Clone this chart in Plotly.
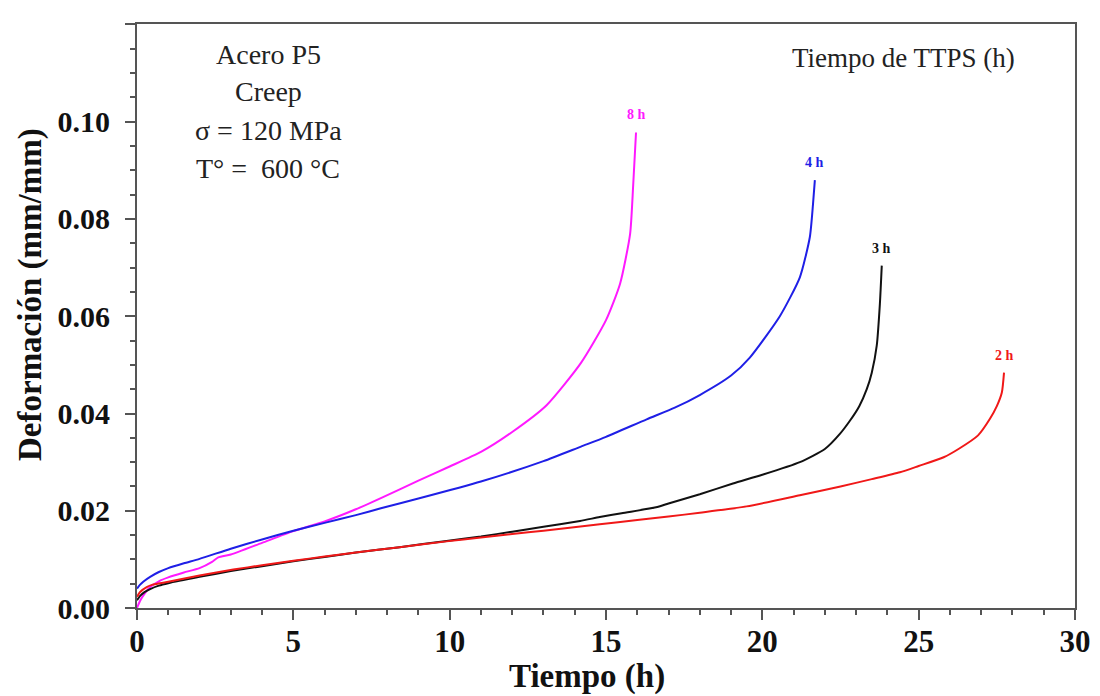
import plotly.graph_objects as go

# Creep curves, acero P5, sigma = 120 MPa, 600 C
t_8h = [0, 0.1, 0.25, 0.42, 0.7, 1.0, 1.5, 2.0, 2.4, 2.6, 3.0, 4.0, 5.0, 6.0, 7.0, 7.8,
        9.0, 10.0, 11.0, 12.0, 13.1, 14.2, 15.0, 15.45, 15.77, 15.87, 15.96]
e_8h = [0, 0.0015, 0.003, 0.0043, 0.0055, 0.0063, 0.0073, 0.0082, 0.0095, 0.0104, 0.0110,
        0.0134, 0.0158, 0.0178, 0.0203, 0.0226, 0.0262, 0.0291, 0.0321, 0.0362, 0.0417,
        0.0504, 0.0592, 0.0667, 0.0769, 0.087, 0.0978]

t_4h = [0, 0.1, 0.2, 0.42, 0.7, 1.0, 1.5, 2.0, 3.0, 4.0, 5.0, 6.0, 7.0, 7.8, 9.0, 11.0,
        13.0, 14.2, 15.0, 16.3, 17.2, 18.0, 19.0, 19.6, 20.56, 21.2, 21.52, 21.62, 21.68]
e_4h = [0.004, 0.0048, 0.0054, 0.0064, 0.0074, 0.0082, 0.0092, 0.0101, 0.0122, 0.0141,
        0.0159, 0.0175, 0.0191, 0.0205, 0.0225, 0.026, 0.0302, 0.0332, 0.0352, 0.0388,
        0.0412, 0.0438, 0.0478, 0.0515, 0.060, 0.068, 0.0763, 0.083, 0.088]

t_3h = [0, 0.1, 0.25, 0.42, 0.7, 1.0, 2.0, 3.0, 4.0, 5.0, 6.0, 7.0, 8.4, 9.9, 11.0, 12.0,
        13.0, 14.17, 14.8, 15.5, 16.6, 17.0, 18.0, 19.06, 20.0, 21.2, 22.0, 22.48, 22.8,
        23.1, 23.34, 23.5, 23.66, 23.76, 23.82]
e_3h = [0.0016, 0.0025, 0.0033, 0.0039, 0.0046, 0.0051, 0.0064, 0.0076, 0.0086, 0.0096,
        0.0105, 0.0114, 0.0125, 0.0138, 0.0147, 0.0157, 0.0167, 0.0179, 0.0187, 0.0195,
        0.0207, 0.0215, 0.0234, 0.0256, 0.0274, 0.0300, 0.0327, 0.0358, 0.0385, 0.0415,
        0.0450, 0.0484, 0.054, 0.0626, 0.0704]

t_2h = [0, 0.1, 0.31, 0.5, 0.74, 1.0, 2.0, 3.08, 4.0, 5.0, 6.0, 7.0, 8.4, 9.9, 11.0, 12.0,
        13.0, 14.8, 16.0, 17.0, 18.0, 19.5, 21.2, 22.5, 23.5, 24.4, 25.0, 25.8, 26.3, 26.9,
        27.28, 27.5, 27.66, 27.73]
e_2h = [0.0023, 0.0033, 0.0043, 0.0048, 0.0051, 0.0054, 0.0067, 0.0079, 0.0088, 0.0097,
        0.0106, 0.0114, 0.0125, 0.0137, 0.0145, 0.0152, 0.0159, 0.0172, 0.0181, 0.0188,
        0.0196, 0.0209, 0.0232, 0.0250, 0.0265, 0.0279, 0.0292, 0.0310, 0.0328, 0.0355,
        0.0389, 0.0415, 0.0443, 0.0484]

series = [
    ("8 h", t_8h, e_8h, "#ff19ff"),
    ("4 h", t_4h, e_4h, "#1f1fe6"),
    ("3 h", t_3h, e_3h, "#111111"),
    ("2 h", t_2h, e_2h, "#f01818"),
]

y_ticks = [0.0, 0.02, 0.04, 0.06, 0.08, 0.10, 0.12]
y_labels = ["0.00", "0.02", "0.04", "0.06", "0.08", "0.10", "0.12"]

info_lines = ["Acero P5", "Creep", "σ = 120 MPa", "T° =  600 °C"]
info_y = [0.947, 0.885, 0.818, 0.753]

serif = "Liberation Serif, Times New Roman, serif"

fig = go.Figure()
for name, t, e, color in series:
    fig.add_trace(go.Scatter(x=t, y=e, mode="lines", name=name,
                             line=dict(color=color, width=2, shape="spline", smoothing=0.6)))
    fig.add_annotation(x=t[-1], y=e[-1], text="<b>%s</b>" % name, showarrow=False,
                       yanchor="bottom", yshift=8,
                       font=dict(family=serif, size=14, color=color))

for line, yy in zip(info_lines, info_y):
    fig.add_annotation(x=0.14, y=yy, xref="paper", yref="paper", showarrow=False,
                       text=line, xanchor="center", yanchor="middle",
                       font=dict(family=serif, size=28, color="#222"))
fig.add_annotation(x=0.817, y=0.942, xref="paper", yref="paper", showarrow=False,
                   text="Tiempo de TTPS (h)", xanchor="center", yanchor="middle",
                   font=dict(family=serif, size=27, color="#222"))

# axis titles
fig.add_annotation(x=0.48, y=-0.117, xref="paper", yref="paper", showarrow=False,
                   text="<b>Tiempo (h)</b>", xanchor="center", yanchor="middle",
                   font=dict(family=serif, size=33, color="#111"))
fig.add_annotation(x=-0.113, y=0.536, xref="paper", yref="paper", showarrow=False,
                   text="<b>Deformación (mm/mm)</b>", textangle=-90,
                   xanchor="center", yanchor="middle",
                   font=dict(family=serif, size=33, color="#111"))

axis_style = dict(showline=True, linecolor="#555", linewidth=2, mirror=True,
                  ticks="outside", ticklen=10, tickwidth=2, tickcolor="#555",
                  showgrid=False, zeroline=False, automargin=False)

fig.update_xaxes(range=[0, 30], dtick=5, **axis_style,
                 minor=dict(dtick=1, ticks="outside", ticklen=5, tickwidth=2, tickcolor="#555"),
                 ticklabelstandoff=-5,
                 tickfont=dict(family=serif, size=31, color="#111", weight="bold"))
fig.update_yaxes(range=[0, 0.1201], tickvals=y_ticks, ticktext=y_labels, **axis_style,
                 minor=dict(dtick=0.005, ticks="outside", ticklen=5, tickwidth=2, tickcolor="#555"),
                 ticklabelstandoff=9,
                 tickfont=dict(family=serif, size=30, color="#111", weight="bold"))

# the page shifts the figure by 8px, margins are set so the plot area lands where it should
fig.update_layout(width=1100, height=696, showlegend=False,
                  plot_bgcolor="white", paper_bgcolor="white",
                  margin=dict(l=129, r=33, t=16, b=96))

fig.write_html("out.html")
